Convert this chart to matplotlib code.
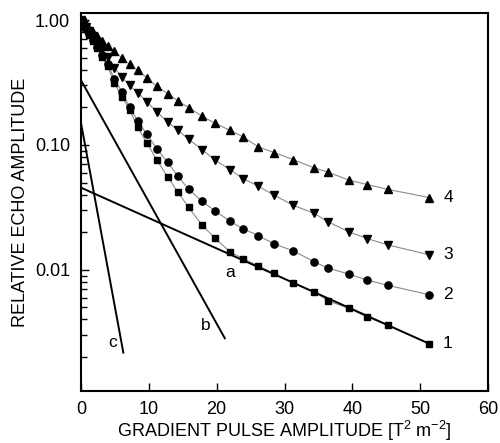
import numpy as np
import matplotlib
matplotlib.use("Agg")
import matplotlib.pyplot as plt
from matplotlib.ticker import FixedLocator, LogLocator, NullFormatter

plt.rcParams["font.family"] = ["Liberation Sans", "DejaVu Sans"]
plt.rcParams["mathtext.default"] = "regular"

# gradient pulse amplitude (T^2 m^-2), shared by all four curves
x_pts = [0, 0.05, 0.19, 0.44, 0.77, 1.21, 1.74, 2.37, 3.10, 3.95, 4.87, 6.05,
         7.15, 8.36, 9.69, 11.17, 12.76, 14.31, 15.86, 17.85, 19.76, 21.98,
         23.89, 26.15, 28.47, 31.27, 34.37, 36.43, 39.53, 42.18, 45.28, 51.33]

echo_1 = [1.0, 0.985, 0.955, 0.904, 0.843, 0.766, 0.682, 0.594, 0.508, 0.426,
          0.316, 0.242, 0.192, 0.138, 0.104, 0.0761, 0.0555, 0.0418, 0.0316,
          0.0228, 0.0179, 0.0139, 0.0123, 0.0107, 0.00936, 0.00783, 0.00667,
          0.00564, 0.00491, 0.00418, 0.00359, 0.00256]
echo_2 = [1.0, 0.987, 0.958, 0.910, 0.852, 0.778, 0.698, 0.610, 0.527, 0.446,
          0.340, 0.265, 0.201, 0.156, 0.122, 0.0936, 0.0727, 0.0559, 0.0442,
          0.0354, 0.0296, 0.0245, 0.0213, 0.0188, 0.0161, 0.0142, 0.0116,
          0.0103, 0.00924, 0.00827, 0.00750, 0.00631]
echo_3 = [1.0, 0.989, 0.967, 0.927, 0.877, 0.812, 0.741, 0.663, 0.583, 0.503,
          0.416, 0.350, 0.300, 0.263, 0.221, 0.184, 0.153, 0.131, 0.111,
          0.0919, 0.0754, 0.0635, 0.0538, 0.0467, 0.0396, 0.0329, 0.0283,
          0.0242, 0.0201, 0.0178, 0.0158, 0.0132]
echo_4 = [1.0, 0.991, 0.973, 0.941, 0.899, 0.850, 0.797, 0.741, 0.682, 0.622,
          0.562, 0.498, 0.442, 0.396, 0.346, 0.295, 0.258, 0.225, 0.199,
          0.170, 0.149, 0.131, 0.116, 0.0964, 0.0869, 0.0764, 0.0655, 0.0605,
          0.0522, 0.0482, 0.0440, 0.0379]

curve_labels = ["1", "2", "3", "4"]
curve_markers = ["s", "o", "v", "^"]
curve_msize = [4.2, 5.2, 6.2, 6.2]

# straight component lines a, b, c: (x_start, x_end), (y_start, y_end)
line_names = ["a", "b", "c"]
line_x = [(0, 51.33), (0, 21.2), (0, 6.24)]
line_y = [(0.0455, 0.00256), (0.330, 0.00283), (0.150, 0.00217)]
line_label_xy = [(22.0, 0.0096), (18.4, 0.0036), (4.6, 0.0026)]

fig = plt.figure(figsize=(5.0, 4.43), dpi=100)
ax = fig.add_axes([0.162, 0.1174, 0.814, 0.8533])

for y, mk, ms, lab in zip([echo_1, echo_2, echo_3, echo_4], curve_markers,
                          curve_msize, curve_labels):
    ax.plot(x_pts, y, color="#8a8a8a", linewidth=0.8, zorder=2)
    ax.plot(x_pts, y, linestyle="none", marker=mk, markersize=ms,
            color="black", zorder=3)
    ax.text(54.1, y[-1], lab, fontsize=12.5, ha="center", va="center")

for name, xs, ys, (tx, ty) in zip(line_names, line_x, line_y, line_label_xy):
    ax.plot(xs, ys, color="black", linewidth=1.4, zorder=2)
    ax.text(tx, ty, name, fontsize=12.5, ha="center", va="center")

ax.set_yscale("log")
ax.set_xlim(0, 60)
ax.set_ylim(0.00107, 1.14)

ax.set_xticks([0, 10, 20, 30, 40, 50, 60])
ax.yaxis.set_major_locator(FixedLocator([0.01, 0.1, 1.0]))
ax.set_yticklabels(["0.01", "0.10", "1.00"])
ax.yaxis.set_minor_locator(LogLocator(base=10, subs=np.arange(2, 10)))
ax.yaxis.set_minor_formatter(NullFormatter())

ax.tick_params(axis="both", which="major", direction="in", length=6,
               width=1.0, labelsize=13, top=False, right=False)
ax.tick_params(axis="x", pad=7)
ax.tick_params(axis="y", pad=8)
ax.tick_params(axis="y", which="minor", direction="in", length=4, width=1.0,
               right=False)

for sp in ax.spines.values():
    sp.set_linewidth(1.5)

ax.set_xlabel("GRADIENT PULSE AMPLITUDE [T$^{2}$ m$^{-2}$]", fontsize=13,
              labelpad=1)
ax.set_ylabel("RELATIVE ECHO AMPLITUDE", fontsize=13, labelpad=4)

fig.savefig("out.png", dpi=100)
